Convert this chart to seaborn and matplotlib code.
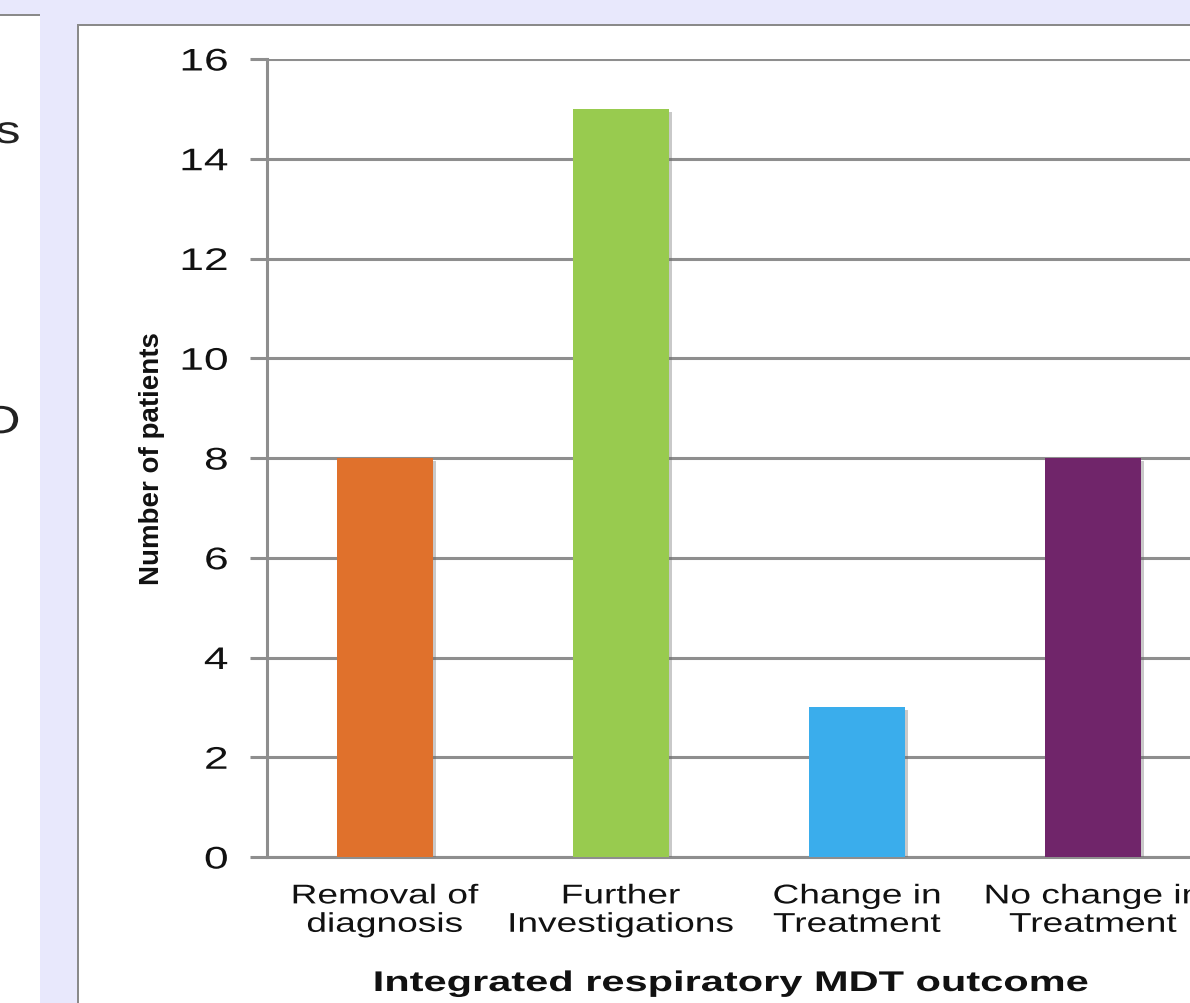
import matplotlib
matplotlib.use("Agg")
import matplotlib.pyplot as plt
import matplotlib.patheffects as pe
from matplotlib.patches import Rectangle
from matplotlib.transforms import Affine2D
import seaborn as sns
import pandas as pd

outcomes = ["Removal of\ndiagnosis", "Further\nInvestigations",
            "Change in\nTreatment", "No change in\nTreatment"]
patients = [8, 15, 3, 8]
bar_colors = ["#E0712C", "#98CB4F", "#3AADEC", "#70256A"]
y_ticks = [0, 2, 4, 6, 8, 10, 12, 14, 16]

W, H = 1190, 1004
BG = "#E8E8FC"
GRID = "#8E8E8E"
TXT = "#111111"


class Stretch(pe.AbstractPathEffect):
    # the slide text is widened horizontally; scale glyphs in display space
    def __init__(self, sx=1.47, anchor="center"):
        super().__init__()
        self.sx = sx
        self.anchor = anchor

    def draw_path(self, renderer, gc, tpath, affine, rgbFace=None):
        ext = tpath.get_extents(affine)
        x0 = ext.x1 if self.anchor == "right" else (ext.x0 + ext.x1) / 2
        t = affine + Affine2D().translate(-x0, 0).scale(self.sx, 1).translate(x0, 0)
        renderer.draw_path(gc, tpath, t, rgbFace)


sns.set_theme(style="white")
plt.rcParams["font.family"] = ["Liberation Sans", "DejaVu Sans"]

fig = plt.figure(figsize=(W / 100, H / 100), dpi=100, facecolor=BG)


def panel(x, y, w, h, color, z):
    fig.patches.append(Rectangle((x / W, y / H), w / W, h / H, transform=fig.transFigure,
                                 facecolor=color, edgecolor="none", zorder=z))


# slide panels behind the chart
panel(0, 0, 40, H - 15, "white", -3)
panel(0, H - 17, 40, 2, "#8A8A8A", -2)
panel(77, 0, W, H - 25, "white", -3)
panel(77, H - 27, W, 2, "#8A8A8A", -2)
panel(77, 0, 2, H - 25, "#8A8A8A", -2)

# cropped text from neighbouring panel
for ch, ypos in [("s", 134), ("O", 424)]:
    t = fig.text(20 / W, 1 - ypos / H, ch, ha="right", va="center", fontsize=28, color="#222222")
    t.set_path_effects([Stretch(1.3, "right")])

ax_left, ax_right = 267 / W, 1211 / W
ax_bottom, ax_top = 1 - 858 / H, 1 - 60 / H
ax = fig.add_axes([ax_left, ax_bottom, ax_right - ax_left, ax_top - ax_bottom])
ax.set_zorder(5)
ax.set_facecolor("none")

df = pd.DataFrame({"outcome": outcomes, "patients": patients})
sns.barplot(data=df, x="outcome", y="patients", hue="outcome", palette=bar_colors,
            width=0.405, saturation=1, legend=False, ax=ax, zorder=3)
for bar in ax.patches:
    bar.set_edgecolor("none")
    bar.set_path_effects([pe.SimplePatchShadow(offset=(2, -2), shadow_rgbFace="#666666",
                                               alpha=0.35), pe.Normal()])

ax.set_ylim(0, 16)
ax.set_xlim(-0.5, 3.5)
ax.set_yticks(y_ticks)
ax.yaxis.grid(True, color=GRID, linewidth=2.2)
ax.set_axisbelow(True)
for side in ["top", "right"]:
    ax.spines[side].set_visible(False)
for side in ["left", "bottom"]:
    ax.spines[side].set_color(GRID)
    ax.spines[side].set_linewidth(2.2)

ax.tick_params(axis="y", left=True, length=12, width=2.2, color=GRID, pad=16,
               labelsize=22.5, labelcolor=TXT)
ax.tick_params(axis="x", bottom=False, pad=13, labelsize=19.5, labelcolor=TXT)
for lbl in ax.get_yticklabels():
    lbl.set_path_effects([Stretch(1.42, "right")])
for lbl in ax.get_xticklabels():
    lbl.set_linespacing(1.12)
    lbl.set_path_effects([Stretch(1.37, "center")])

ax.set_ylabel("Number of patients", fontsize=20, fontweight="bold", color=TXT)
ax.yaxis.set_label_coords((152 - 267) / (1211 - 267), 0.5)
ax.set_xlabel("Integrated respiratory MDT outcome", fontsize=20.5, fontweight="bold", color=TXT)
ax.xaxis.set_label_coords((731 - 267) / (1211 - 267), -(985 - 858) / (858 - 60))
ax.xaxis.label.set_va("center")
ax.yaxis.label.set_va("center")
ax.xaxis.label.set_path_effects([Stretch(1.46, "center")])

fig.savefig("out.png", dpi=100, facecolor=BG)
